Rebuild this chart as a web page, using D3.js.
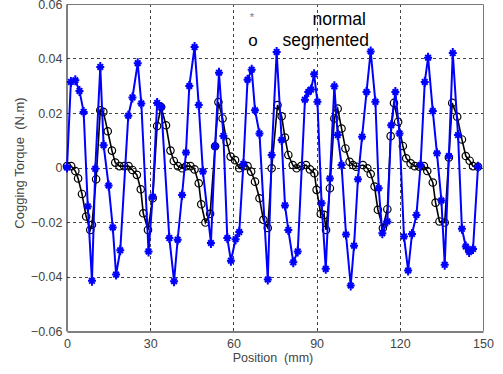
<!DOCTYPE html>
<html>
<head>
<meta charset="utf-8">
<script src="https://cdn.jsdelivr.net/npm/d3@7"></script>
<style>
  body { margin: 0; background: #fff; }
  text { font-family: Arial, "Liberation Sans", sans-serif; }
</style>
</head>
<body>
<div id="chart"></div>
<script>
// position (mm) and cogging torque (N.m)
var normalX = [0,1.4,3,4.5,6,7.5,9,10.2,12,13.2,15,16.5,17.7,19.2,22.1,23.6,25.5,26.8,29.4,30.9,
    32.5,34,36.9,38.6,39.9,41.5,42.9,44.1,46,47.5,49,51.9,53.4,54.8,56.4,57.8,59.1,60.8,62.1,63.6,
    65.1,66.6,67.8,69.4,72.4,73.8,75.6,77.4,78.6,79.8,81.6,83.2,85.8,87,88,89.1,90.3,91.8,93.3,94.8,
    96.4,97.6,99,100.6,102.3,103.5,104.9,106.4,108,109.5,111.2,112.4,113.7,115.5,116.9,118.4,119.9,
    121.5,123,124.4,126,127.5,129,130.2,131.9,133.4,135,136.2,137.7,139.1,141,142.4,143.8,145,146.4,148.2];
var normalY = [0,0.0314,0.032,0.0281,0.0204,-0.0143,-0.0416,-0.0005,0.0369,0.0082,-0.0066,-0.022,
    -0.0393,-0.0304,0.019,0.0257,0.0383,0.0235,-0.0308,-0.0107,0.0237,0.0222,-0.0259,-0.0417,-0.0265,
    -0.0101,0.0055,0.0299,0.0442,0.0229,-0.0015,-0.0277,0.0078,0.0348,0.0116,-0.0259,-0.0342,-0.0263,
    -0.0237,0.0013,0.0322,0.0359,0.021,0.0125,-0.0411,0.0046,0.0424,0.0101,-0.0139,-0.0229,-0.0348,
    -0.0308,0.0249,0.0277,0.0286,0.0342,0.0241,-0.0131,-0.0372,-0.004,0.0298,0.0119,0.0009,-0.0246,
    -0.0433,-0.0287,-0.0043,0.0113,0.0277,0.0426,0.0241,-0.0076,-0.0241,-0.0198,0.0155,0.0277,0.0125,
    -0.0253,-0.0378,-0.0244,-0.0174,0.0009,0.0314,0.0403,0.0207,0.0052,-0.0121,-0.0357,0.0042,0.042,
    0.0119,-0.0225,-0.029,-0.031,-0.0299,0.0003];

var segX = [0,1.5,3,4,5.4,6.9,8.4,9,10.5,12,13.1,14.7,16.2,17.4,18.9,20.6,22.2,23.6,25.2,26.6,27.5,
    29.2,30.9,32.5,33.9,35.7,37.3,38.5,40,41.5,43,44.5,46,47.5,48.4,49.9,51.6,53.4,54.6,56.1,57.6,59,
    60.6,62.1,63.6,65.1,66.4,67.8,69.4,70.8,72.4,73.8,75.9,77.4,78.6,79.8,81.4,82.8,84.4,86.2,87.6,
    89.2,90,91.5,92.7,93.4,94.8,96.4,97.6,99,100.4,101.9,103.1,104.3,106.7,108.3,109.5,110.9,112.1,
    113.9,115.5,116.7,117.9,119.4,121.1,122.3,123.9,125.4,127.1,128.7,129.9,131.9,132.9,134.3,136.2,
    137.7,138.9,140.7,142.4,143.8,145.2,146.4,148.2];
var segY = [0.0005,0.0005,-0.0013,-0.004,-0.0097,-0.018,-0.0229,-0.021,-0.0043,0.021,0.0204,0.0133,
    0.0062,0.0018,0.0005,0.0005,0.0005,-0.0009,-0.0027,-0.008,-0.0168,-0.0229,-0.0113,0.0152,0.0222,
    0.0155,0.0062,0.0024,0.0005,-0.0003,0.0005,0.0005,-0.0007,-0.0058,-0.0135,-0.0202,-0.017,0.0078,
    0.024,0.018,0.0094,0.004,0.0027,-0.0003,0.0005,0.0005,-0.0015,-0.0052,-0.0113,-0.0192,-0.0222,
    -0.0003,0.0229,0.0188,0.011,0.0046,0.0009,-0.0003,0.0005,0.0009,-0.0007,-0.0021,-0.0082,-0.017,
    -0.0174,-0.0229,-0.0076,0.018,0.0216,0.0143,0.007,0.0021,0.0009,0.0003,0.0009,-0.0003,-0.0024,
    -0.007,-0.0155,-0.0222,-0.0153,0.0115,0.0237,0.0168,0.0079,0.0034,0.0015,0.0005,0.0003,0.0005,
    -0.0013,-0.0055,-0.0129,-0.0198,-0.0202,0.0037,0.0237,0.0186,0.0103,0.0042,0.0025,0.0005,0.0003];

var xTicks = [0, 30, 60, 90, 120, 150];
var yTicks = [-0.06, -0.04, -0.02, 0, 0.02, 0.04, 0.06];
var legendNames = ["normal", "segmented"];

var width = 503,
    height = 374,
    plotLeft = 67, plotRight = 483, plotTop = 4, plotBottom = 331;

var normal = normalX.map(function (d, i) { return {x: d, y: normalY[i]}; });
var seg = segX.map(function (d, i) { return {x: d, y: segY[i]}; });

var x = d3.scaleLinear().domain([0, 150]).range([plotLeft, plotRight]);
var y = d3.scaleLinear().domain([-0.06, 0.06]).range([plotBottom, plotTop]);

var svg = d3.select("#chart")
    .append("svg")
    .attr("width", width)
    .attr("height", height);

// grid
svg.append("g").selectAll("line")
    .data(xTicks.slice(1, -1))
    .enter().append("line")
    .attr("x1", function (d) { return Math.round(x(d)) + 0.5; })
    .attr("x2", function (d) { return Math.round(x(d)) + 0.5; })
    .attr("y1", plotTop).attr("y2", plotBottom)
    .attr("stroke", "#444").attr("stroke-dasharray", "3,3");

svg.append("g").selectAll("line")
    .data(yTicks.slice(1, -1))
    .enter().append("line")
    .attr("y1", function (d) { return Math.round(y(d)) + 0.5; })
    .attr("y2", function (d) { return Math.round(y(d)) + 0.5; })
    .attr("x1", plotLeft).attr("x2", plotRight)
    .attr("stroke", "#444").attr("stroke-dasharray", "3,3");

// frame
svg.append("path")
    .attr("d", "M" + plotLeft + "," + (plotTop + 0.5) + "H" + (plotRight + 0.5) + "V" + plotBottom)
    .attr("fill", "none").attr("stroke", "#777");

// axes
var xAxis = d3.axisBottom(x).tickValues(xTicks).tickSize(0).tickPadding(8)
    .tickFormat(d3.format("d"));
var yAxis = d3.axisLeft(y).tickValues(yTicks).tickSize(0).tickPadding(4)
    .tickFormat(function (d) { return d === 0 ? "0" : d3.format(".2f")(d); });

var gx = svg.append("g").attr("transform", "translate(0," + (plotBottom + 0.5) + ")").call(xAxis);
var gy = svg.append("g").attr("transform", "translate(" + (plotLeft - 0.5) + ",0)").call(yAxis);
[gx, gy].forEach(function (g) {
    g.select(".domain").attr("stroke", "#000");
    g.selectAll("text").attr("fill", "#444").style("font-size", "12.5px")
        .style("font-family", "Arial, 'Liberation Sans', sans-serif");
});

svg.append("text")
    .attr("x", 273).attr("y", 362)
    .attr("text-anchor", "middle")
    .style("font-size", "12.5px").style("white-space", "pre")
    .attr("fill", "#444")
    .text("Position  (mm)");

svg.append("text")
    .attr("transform", "translate(24,163) rotate(-90)")
    .attr("text-anchor", "middle")
    .style("font-size", "13px").style("white-space", "pre")
    .attr("fill", "#444")
    .text("Cogging Torque  (N.m)");

// series
var line = d3.line()
    .x(function (d) { return x(d.x); })
    .y(function (d) { return y(d.y); });

svg.append("path")
    .datum(seg)
    .attr("d", line)
    .attr("fill", "none").attr("stroke", "#000").attr("stroke-width", 1.6);

svg.append("g").selectAll("circle")
    .data(seg)
    .enter().append("circle")
    .attr("cx", function (d) { return x(d.x); })
    .attr("cy", function (d) { return y(d.y); })
    .attr("r", 3.7)
    .attr("fill", "none").attr("stroke", "#000").attr("stroke-width", 1.2);

svg.append("path")
    .datum(normal)
    .attr("d", line)
    .attr("fill", "none").attr("stroke", "#0000ff").attr("stroke-width", 2);

var star = "M0,-5V5M-4,0H4M-2.8,-2.8L2.8,2.8M-2.8,2.8L2.8,-2.8";
svg.append("g").selectAll("path")
    .data(normal)
    .enter().append("path")
    .attr("transform", function (d) { return "translate(" + x(d.x) + "," + y(d.y) + ")"; })
    .attr("d", star)
    .attr("stroke", "#0000ff").attr("stroke-width", 2).attr("fill", "none");

// legend
svg.append("text").attr("x", 252).attr("y", 21).attr("text-anchor", "middle")
    .style("font-size", "11px").attr("fill", "#777").text("*");
svg.append("text").attr("x", 253).attr("y", 46).attr("text-anchor", "middle")
    .style("font-size", "17px").attr("fill", "#000").text("o");
svg.append("text").attr("x", 366).attr("y", 25).attr("text-anchor", "end")
    .style("font-size", "17.5px").attr("fill", "#000").text(legendNames[0]);
svg.append("text").attr("x", 369).attr("y", 46).attr("text-anchor", "end")
    .style("font-size", "17.5px").attr("fill", "#000").text(legendNames[1]);
</script>
</body>
</html>
